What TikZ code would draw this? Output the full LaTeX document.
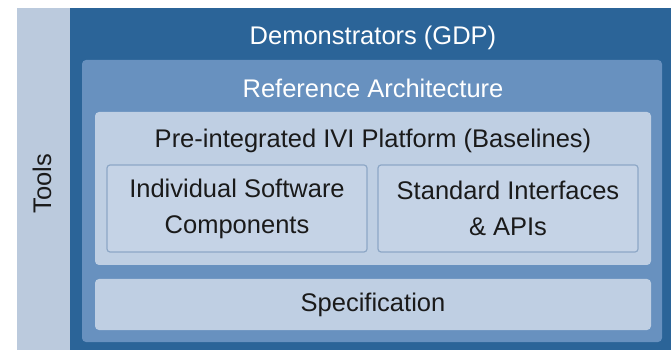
\documentclass[tikz,border=0pt]{standalone}
\usepackage{fontspec}
\setmainfont{Liberation Sans}
\definecolor{darkblue}{HTML}{2B6498}
\definecolor{midblue}{HTML}{6891BF}
\definecolor{paleblue}{HTML}{BFCFE3}
\definecolor{innerblue}{HTML}{C5D3E6}
\definecolor{innerline}{HTML}{8DA7C6}
\definecolor{toolsblue}{HTML}{BBCADD}
\definecolor{txt}{HTML}{1A1A1A}
\begin{document}
\begin{tikzpicture}[x=1pt,y=-1pt,
  area/.style={inner sep=0pt, outer sep=0pt, anchor=north west},
  lbl/.style={font=\fontsize{25.5}{31}\selectfont, inner sep=0pt, align=center, text=txt},
  wlbl/.style={lbl, text=white}]
\useasboundingbox (0,0) rectangle (671,352);
\fill[white] (0,0) rectangle (671,352);
% tools strip
\node[area, fill=toolsblue, minimum width=54pt, minimum height=342pt] (tools) at (17,8) {};
\node[lbl, rotate=90] (toolslbl) at (42,184) {Tools};
% demonstrators
\node[area, fill=darkblue, minimum width=601pt, minimum height=342pt] (demo) at (70,8) {};
\node[wlbl] (demolbl) at (373,38) {Demonstrators (GDP)};
% reference architecture
\node[area, fill=midblue, rounded corners=4pt, minimum width=580pt, minimum height=282pt] (ref) at (82,60) {};
\node[wlbl] (reflbl) at (373,88) {Reference Architecture};
% pre-integrated platform
\node[area, fill=paleblue, rounded corners=4pt, minimum width=556pt, minimum height=153pt] (pre) at (95,112) {};
\node[lbl] (prelbl) at (373,141) {Pre-integrated IVI Platform (Baselines)};
% inner boxes
\node[area, fill=innerblue, draw=innerline, line width=1.2pt, rounded corners=3pt, minimum width=260pt, minimum height=87pt] (ind) at (107,165) {};
\node[lbl, font=\fontsize{25.5}{36}\selectfont] (indlbl) at (ind.center) {Individual Software\\Components};
\node[area, fill=innerblue, draw=innerline, line width=1.2pt, rounded corners=3pt, minimum width=260pt, minimum height=87pt] (std) at (378,165) {};
\node[lbl, font=\fontsize{25.5}{36}\selectfont] (stdlbl) at (std.center) {Standard Interfaces\\\& APIs};
% specification
\node[area, fill=paleblue, rounded corners=4pt, minimum width=556pt, minimum height=51pt] (spec) at (95,279) {};
\node[lbl] (speclbl) at (spec.center) {Specification};
\end{tikzpicture}
\end{document}
